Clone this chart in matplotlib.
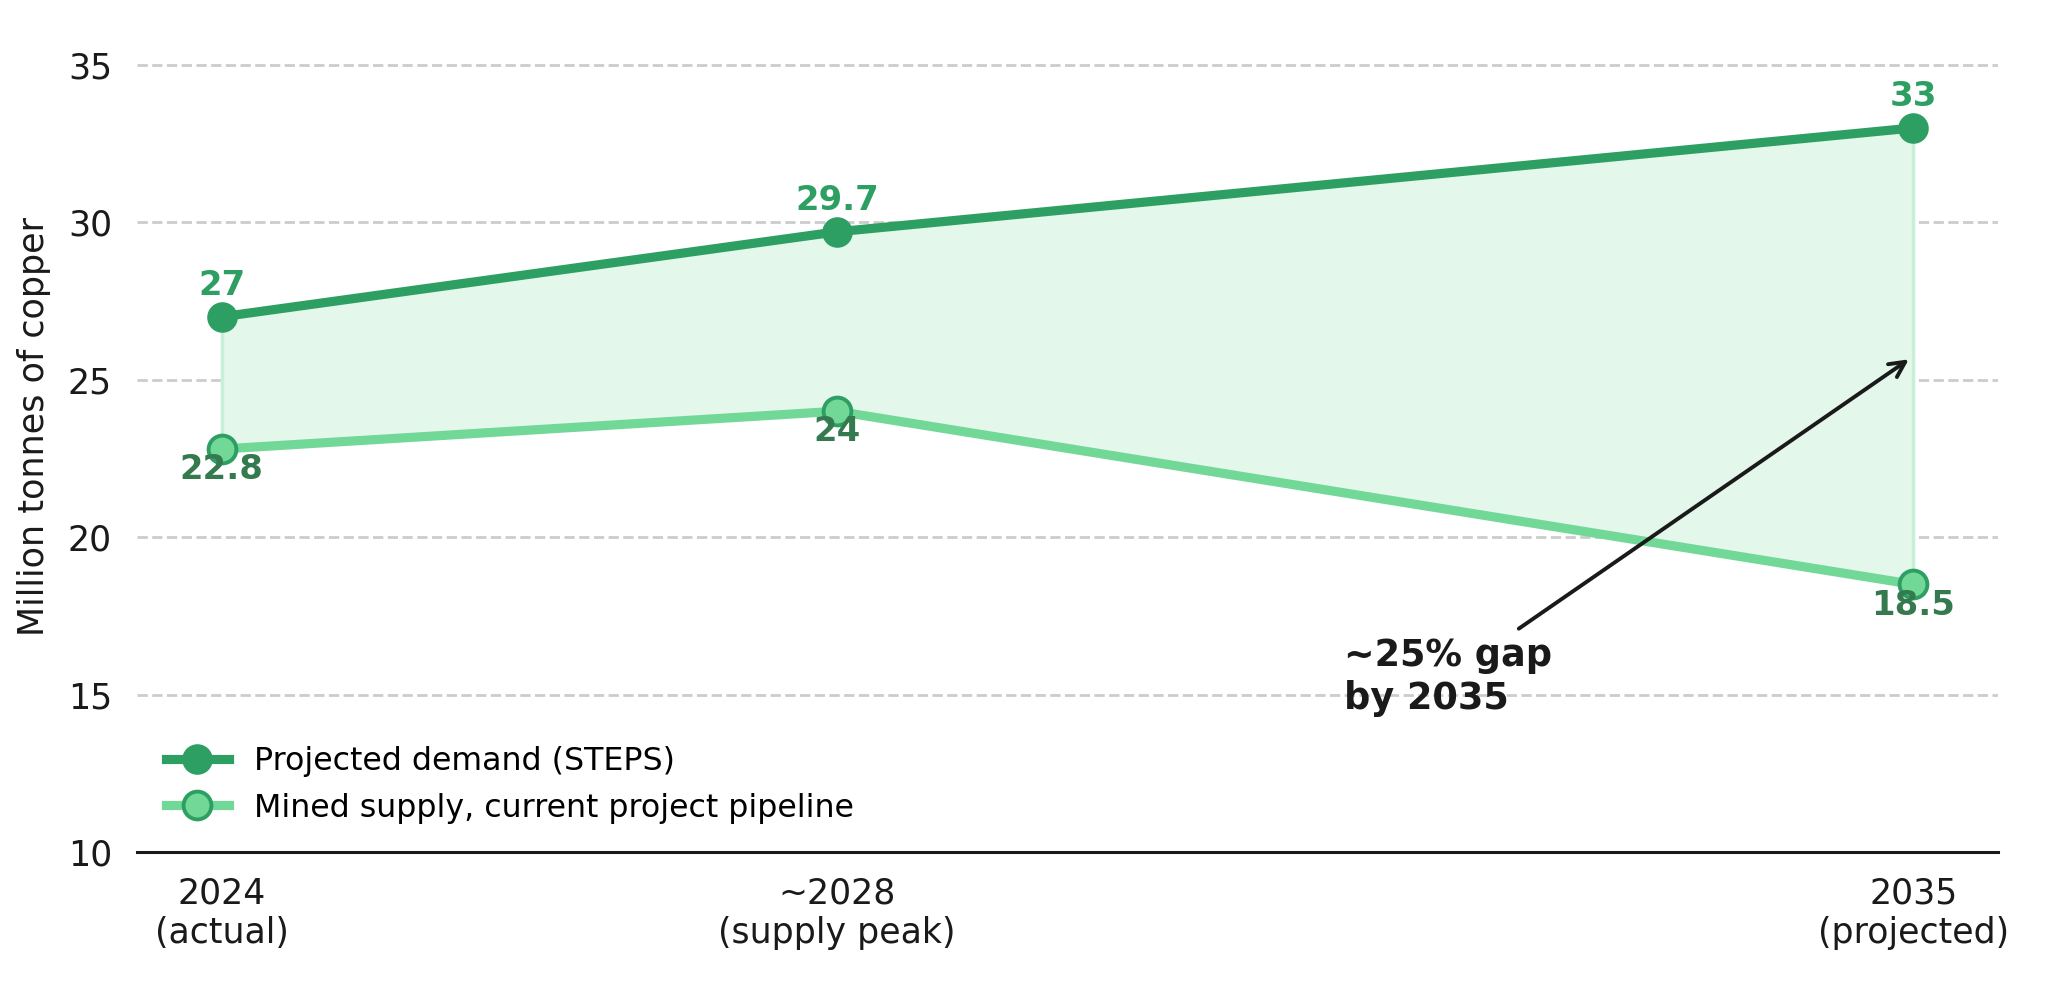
import matplotlib.pyplot as plt

years = [2024, 2028, 2035]
tick_labels = ['2024\n(actual)', '~2028\n(supply peak)', '2035\n(projected)']
demand = [27, 29.7, 33]
supply = [22.8, 24, 18.5]
demand_labels = ['27', '29.7', '33']
supply_labels = ['22.8', '24', '18.5']

c_demand = '#2e9f62'
c_supply = '#72d898'
c_supply_txt = '#357a4f'

plt.rcParams['font.family'] = ['DejaVu Sans']
fig = plt.figure(figsize=(10.24, 4.945), dpi=200)
# axes box placed by hand so the 10..35 grid lands where the reference has it
ax = fig.add_axes([137 / 2048, 1 - 852 / 989, (1998 - 137) / 2048, (852 - 2) / 989])

ax.fill_between(years, supply, demand, color='#e3f7eb', zorder=1)
ax.plot([years[0], years[0]], [supply[0], demand[0]], color='#c9efd8', lw=1.2, zorder=1)
ax.plot([years[-1], years[-1]], [supply[-1], demand[-1]], color='#c9efd8', lw=1.2, zorder=1)

ax.plot(years, demand, color=c_demand, lw=3.3, marker='o', ms=10,
        mfc=c_demand, mec=c_demand, label='Projected demand (STEPS)', zorder=3)
ax.plot(years, supply, color=c_supply, lw=3.3, marker='o', ms=10,
        mfc=c_supply, mec=c_demand, mew=1.4,
        label='Mined supply, current project pipeline', zorder=3)

for x, y, s in zip(years, demand, demand_labels):
    ax.annotate(s, (x, y), xytext=(0, 5.5), textcoords='offset points',
                ha='center', va='bottom', fontsize=12.2, fontweight='bold', color=c_demand)
for x, y, s in zip(years, supply, supply_labels):
    ax.annotate(s, (x, y), xytext=(0, -1.5), textcoords='offset points',
                ha='center', va='top', fontsize=12.2, fontweight='bold', color=c_supply_txt, zorder=4)

ax.annotate('~25% gap\nby 2035', xy=(2035, 25.75), xytext=(2031.3, 15.55),
            ha='left', va='center', fontsize=13.2, fontweight='bold', color='#1a1a1a',
            arrowprops=dict(arrowstyle='->', color='#1a1a1a', lw=1.4, mutation_scale=14))

ax.set_xlim(2023.45, 2035.55)
ax.set_ylim(10, 37)
ax.set_yticks([10, 15, 20, 25, 30, 35])
ax.set_xticks(years)
ax.set_xticklabels(tick_labels)
ax.tick_params(axis='both', length=0, labelsize=12.5, colors='#1a1a1a', pad=9)
ax.set_ylabel('Million tonnes of copper', fontsize=12.6, color='#1a1a1a', labelpad=6)
ax.grid(axis='y', ls='--', color='#cccccc', lw=1.0)
ax.set_axisbelow(True)
for side in ['top', 'right', 'left']:
    ax.spines[side].set_visible(False)
ax.spines['bottom'].set_color('#1a1a1a')
ax.spines['bottom'].set_linewidth(1.1)

ax.legend(loc='lower left', frameon=False, fontsize=11.4, handlelength=2.0,
          bbox_to_anchor=(0.0, 0.0))

fig.savefig('out.png', dpi=200)
